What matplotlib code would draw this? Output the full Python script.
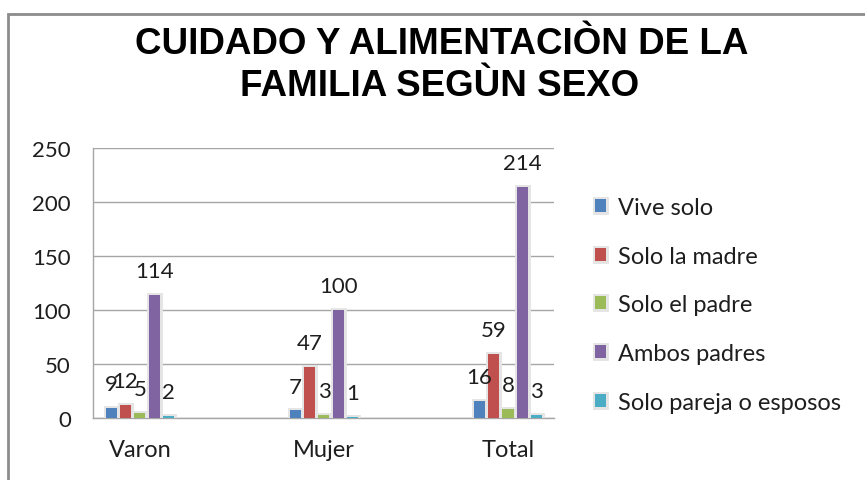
import matplotlib
matplotlib.use("Agg")

import matplotlib.pyplot as plt
import matplotlib.patheffects as pe
from matplotlib.patches import Rectangle
import numpy as np

# categories and one list per series (value labels)
categories = ["Varon", "Mujer", "Total"]
series_names = ["Vive solo", "Solo la madre", "Solo el padre",
                "Ambos padres", "Solo pareja o esposos"]
vive_solo = [9, 7, 16]
solo_madre = [12, 47, 59]
solo_padre = [5, 3, 8]
ambos_padres = [114, 100, 214]
solo_pareja = [2, 1, 3]
yticks = [0, 50, 100, 150, 200, 250]

COLORS = ["#4f81bd", "#c0504d", "#9bbb59", "#8064a2", "#4bacc6"]
TEXT = "#1e1e1e"
GRID = "#a6a6a6"
FONT = ["Lato", "DejaVu Sans"]
TITLE_FONT = ["Liberation Sans", "DejaVu Sans"]

plt.rcParams["font.family"] = FONT

fig = plt.figure(figsize=(8.65, 4.81), dpi=100)
W, H = 865, 481

# outer chart frame (gray border running off the right/bottom edges)
fig.patches.append(Rectangle((8 / W, -0.05), 1.1, 1 - 15 / H + 0.05,
                             transform=fig.transFigure, fill=False,
                             edgecolor="#8c8c8c", linewidth=2))

fig.text(442 / W, 1 - 45 / H, "CUIDADO Y ALIMENTACIÒN DE LA",
         ha="center", va="center", fontsize=26.5, fontweight="bold",
         family=TITLE_FONT, color="black")
fig.text(440 / W, 1 - 86 / H, "FAMILIA SEGÙN SEXO",
         ha="center", va="center", fontsize=26.5, fontweight="bold",
         family=TITLE_FONT, color="black")

ax = fig.add_axes([93 / W, 1 - 419 / H, (554 - 93) / W, (419 - 149) / H])

x = np.arange(len(categories))
width = 0.06
step = 0.078
all_series = [vive_solo, solo_madre, solo_padre, ambos_padres, solo_pareja]
shadow = [pe.Stroke(linewidth=3.5, foreground="#e4e4e4"), pe.Normal()]
for i, (name, vals) in enumerate(zip(series_names, all_series)):
    pos = x + (i - 2) * step
    bars = ax.bar(pos, vals, width, color=COLORS[i], label=name, zorder=3)
    for b in bars:
        b.set_path_effects(shadow)
    for xp, v in zip(pos, vals):
        ax.annotate(str(v), xy=(xp, v), xytext=(0, 10), textcoords="offset points",
                    ha="center", va="bottom", fontsize=16, color=TEXT, zorder=4)

ax.set_xlim(-0.255, 2.25)
ax.set_ylim(0, 250)
ax.set_yticks(yticks)
ax.set_xticks(x)
ax.set_xticklabels(categories)
ax.tick_params(axis="both", length=0, labelsize=16, labelcolor=TEXT)
ax.tick_params(axis="y", pad=16)
ax.tick_params(axis="x", pad=15, labelsize=17)
ax.grid(axis="y", color=GRID, linewidth=1, zorder=0)
for side in ("top", "right"):
    ax.spines[side].set_visible(False)
for side in ("left", "bottom"):
    ax.spines[side].set_color(GRID)
    ax.spines[side].set_linewidth(1)

leg = ax.legend(loc="upper left", bbox_to_anchor=(595 / W, 1 - 198 / H),
                bbox_transform=fig.transFigure, frameon=False, fontsize=17,
                handlelength=0.47, handleheight=0.47, handletextpad=0.5,
                labelspacing=1.17, borderpad=0, borderaxespad=0)
for t in leg.get_texts():
    t.set_color(TEXT)

fig.savefig("out.png", dpi=100)
